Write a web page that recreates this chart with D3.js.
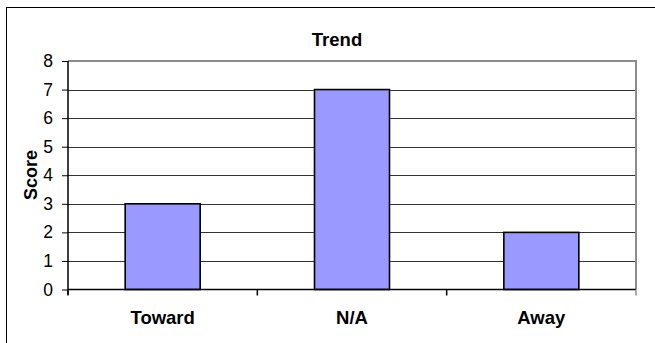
<!DOCTYPE html>
<html><head><meta charset="utf-8">
<script src="https://cdn.jsdelivr.net/npm/d3@7"></script>
<style>body{margin:0;background:#fff}svg{display:block}text{font-family:"Liberation Sans",Arial,sans-serif}</style>
</head><body>
<script>
const categories = ["Toward", "N/A", "Away"];
const scores = [3, 7, 2];
const yTicks = [0, 1, 2, 3, 4, 5, 6, 7, 8];
const chartTitle = "Trend";
const yTitle = "Score";

const W = 655, H = 343;
const svg = d3.select("body").append("svg").attr("width", W).attr("height", H);
svg.append("rect").attr("x", 0).attr("y", 0).attr("width", W).attr("height", H).attr("fill", "#fff");
svg.append("rect").attr("x", 6.5).attr("y", 7.5).attr("width", 720).attr("height", 400)
  .attr("fill", "none").attr("stroke", "#000").attr("stroke-width", 1);

const L = 68, R = 636, T = 61, B = 289.5;
const x = d3.scaleBand().domain(categories).range([L, R]).paddingInner(0).paddingOuter(0);
const y = d3.scaleLinear().domain([0, 8]).range([B, T]);

// gridlines
svg.append("g").selectAll("line").data(yTicks.filter(d => d > 0 && d < 8)).join("line")
  .attr("x1", L).attr("x2", R).attr("y1", d => Math.round(y(d)) + 0.5).attr("y2", d => Math.round(y(d)) + 0.5)
  .attr("stroke", "#333").attr("stroke-width", 1);
// plot border top/right gray
svg.append("path").attr("d", `M${L},${T}H${R}V${B}`).attr("fill", "none").attr("stroke", "#8c8c8c").attr("stroke-width", 2);

// bars
const bw = 75;
svg.append("g").selectAll("rect").data(categories).join("rect")
  .attr("x", d => x(d) + x.bandwidth() / 2 - bw / 2)
  .attr("y", (d, i) => y(scores[i]))
  .attr("width", bw)
  .attr("height", (d, i) => B - y(scores[i]))
  .attr("fill", "#9999ff").attr("stroke", "#000").attr("stroke-width", 1.6);

// y axis
const ya = svg.append("g").attr("transform", `translate(${L},0)`)
  .call(d3.axisLeft(y).tickValues(yTicks).tickSize(6).tickPadding(9).tickFormat(d3.format("d")));
ya.select(".domain").attr("stroke", "#000").attr("stroke-width", 1.5).attr("d", `M0,${T}V${B + 5}`);
ya.selectAll(".tick line").attr("stroke", "#000");
ya.selectAll(".tick text").attr("font-size", 17.5).attr("fill", "#000").attr("font-family", "Liberation Sans, Arial, sans-serif");

// x axis
const xa = svg.append("g").attr("transform", `translate(0,${B})`)
  .call(d3.axisBottom(x).tickSize(0).tickPadding(21));
xa.select(".domain").attr("stroke", "#000").attr("stroke-width", 1.5).attr("d", `M${L},0H${R}`);
xa.selectAll(".tick text").attr("font-size", 18.5).attr("font-weight", "bold").attr("fill", "#000")
  .attr("font-family", "Liberation Sans, Arial, sans-serif");
// category boundary ticks
const bounds = categories.map(c => x(c)).concat([R]);
svg.append("g").selectAll("line").data(bounds).join("line")
  .attr("x1", d => d).attr("x2", d => d).attr("y1", B).attr("y2", B + 6)
  .attr("stroke", (d, i) => i === bounds.length - 1 ? "#8c8c8c" : "#000").attr("stroke-width", 1.5);

// titles
svg.append("text").attr("x", 337).attr("y", 46).attr("text-anchor", "middle")
  .attr("font-size", 18.5).attr("font-weight", "bold").text(chartTitle);
svg.append("text").attr("transform", "translate(36.5,175) rotate(-90)").attr("text-anchor", "middle")
  .attr("font-size", 18).attr("font-weight", "bold").text(yTitle);
</script>
</body></html>
